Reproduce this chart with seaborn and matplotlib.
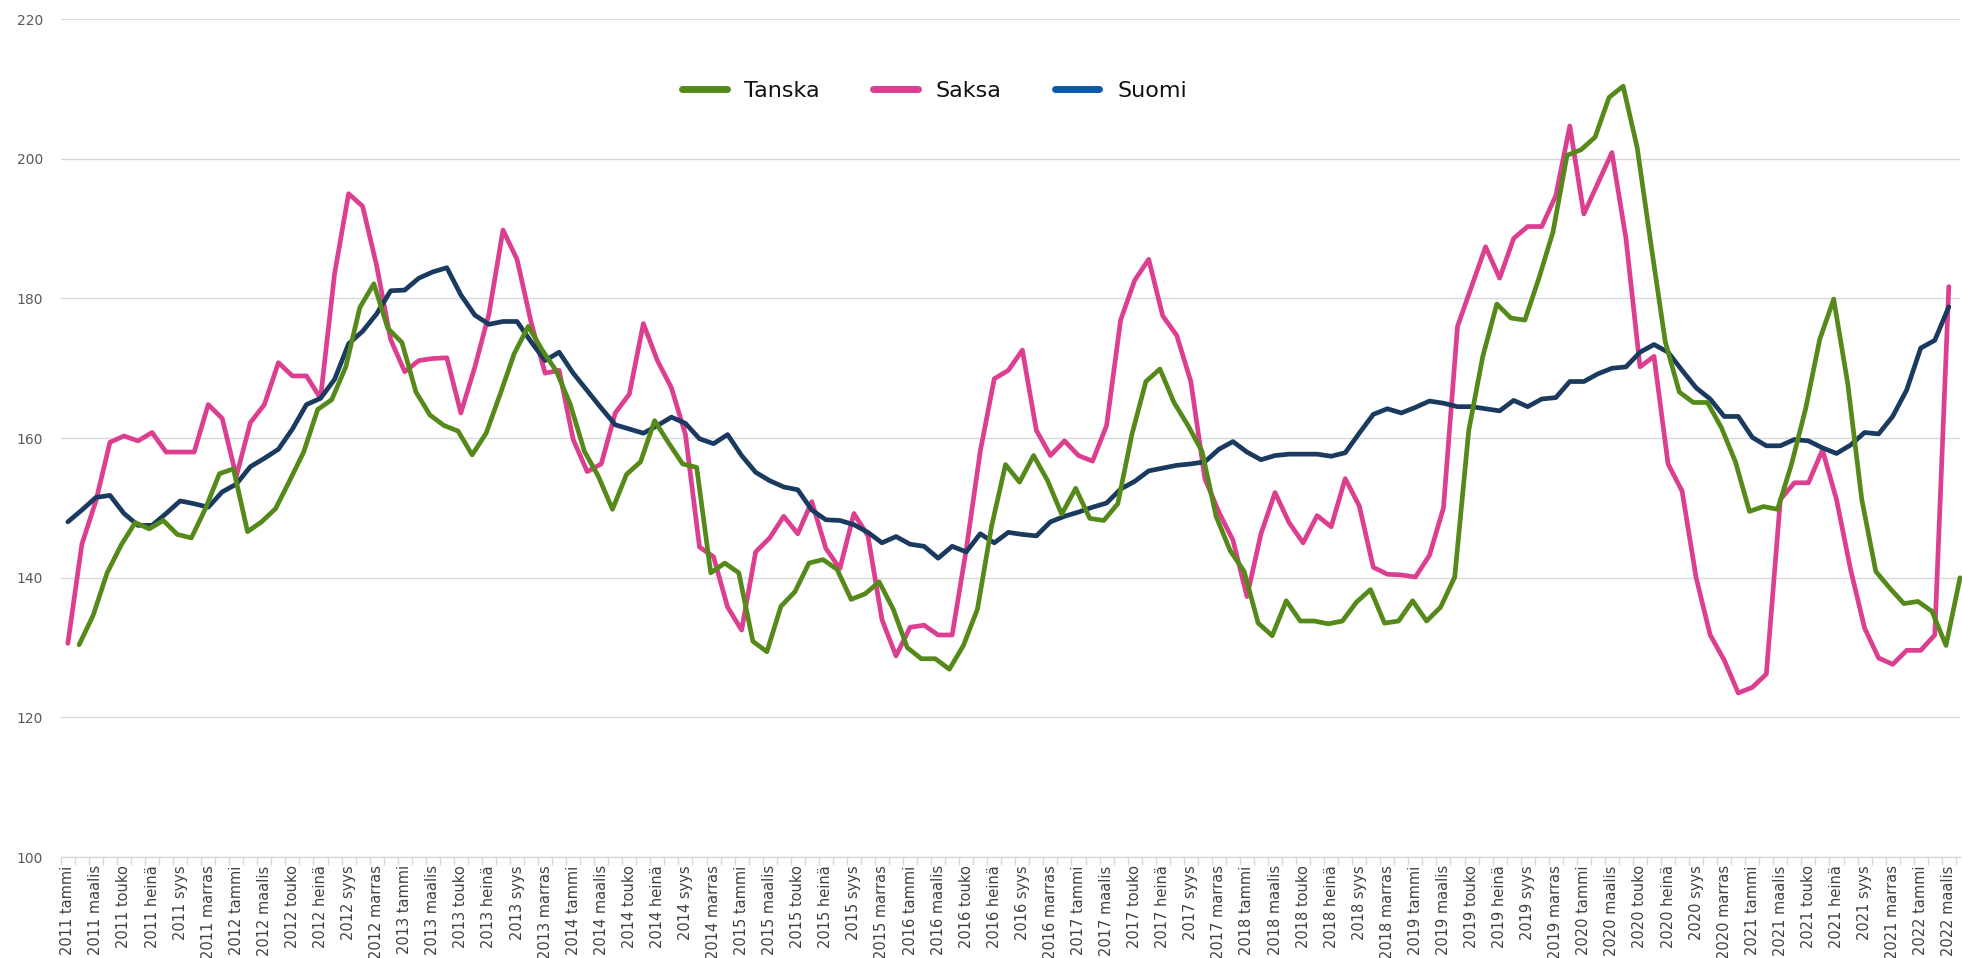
import matplotlib
matplotlib.use('agg')
import numpy as np
import pandas as pd
import seaborn as sns
import matplotlib.pyplot as plt
from matplotlib.lines import Line2D

# monthly categories 2011 tammi .. 2022 maalis
years = list(range(2011, 2023))
month_names = ['tammi', 'helmi', 'maalis', 'huhti', 'touko', 'kesä',
               'heinä', 'elo', 'syys', 'loka', 'marras', 'joulu']
n_months = 135
categories = ["%d %s" % (y, m) for y in years for m in month_names][:n_months]

tanska = [130.4, 134.6, 140.7, 144.7, 147.9, 147.0, 148.2, 146.2, 145.7, 149.9,
          154.9, 155.6, 146.6, 148.0, 149.9, 153.9, 158.0, 164.1, 165.5, 170.2,
          178.7, 182.1, 175.7, 173.7, 166.6, 163.3, 161.8, 161.0, 157.6, 160.7,
          166.3, 172.1, 176.0, 172.6, 169.6, 164.8, 158.1, 154.5, 149.8, 154.8,
          156.6, 162.5, 159.3, 156.3, 155.8, 140.7, 142.1, 140.7, 130.9, 129.4,
          135.9, 138.0, 142.1, 142.6, 141.2, 136.9, 137.7, 139.4, 135.5, 130.0,
          128.4, 128.4, 126.9, 130.3, 135.5, 147.3, 156.2, 153.7, 157.5, 153.9,
          149.1, 152.8, 148.5, 148.2, 150.6, 160.5, 168.1, 169.9, 165.1, 161.8,
          158.1, 148.8, 143.9, 140.9, 133.5, 131.7, 136.7, 133.8, 133.8, 133.4,
          133.8, 136.5, 138.3, 133.5, 133.8, 136.7, 133.8, 135.8, 140.1, 161.1,
          171.7, 179.2, 177.2, 176.9, 182.9, 189.5, 200.5, 201.3, 203.1, 208.8,
          210.4, 201.6, 187.5, 173.8, 166.6, 165.1, 165.1, 161.5, 156.6, 149.5,
          150.2, 149.8, 156.3, 164.2, 174.1, 179.9, 167.8, 151.2, 140.9, 138.5,
          136.3, 136.6, 135.2, 130.3, 140.0]

saksa = [130.6, 144.8, 151.0, 159.4, 160.3, 159.6, 160.8, 158.0, 158.0, 158.0,
         164.8, 162.8, 154.5, 162.2, 164.8, 170.8, 168.9, 168.9, 165.7, 183.5,
         195.0, 193.2, 184.7, 174.1, 169.5, 171.1, 171.4, 171.5, 163.6, 170.2,
         177.8, 189.8, 185.6, 176.6, 169.3, 169.7, 159.8, 155.2, 156.3, 163.6,
         166.3, 176.4, 171.1, 167.2, 160.5, 144.4, 143.0, 135.8, 132.5, 143.7,
         145.7, 148.8, 146.3, 150.9, 144.2, 141.3, 149.2, 146.0, 134.0, 128.8,
         132.9, 133.2, 131.8, 131.8, 144.0, 158.1, 168.5, 169.7, 172.6, 161.1,
         157.5, 159.6, 157.5, 156.7, 161.8, 176.9, 182.6, 185.6, 177.5, 174.7,
         168.1, 154.2, 149.4, 145.4, 137.3, 146.3, 152.2, 147.9, 145.0, 148.9,
         147.3, 154.2, 150.3, 141.5, 140.5, 140.4, 140.1, 143.2, 150.0, 176.0,
         181.7, 187.4, 182.9, 188.6, 190.3, 190.3, 194.7, 204.7, 192.1, 196.5,
         200.9, 188.6, 170.2, 171.7, 156.3, 152.4, 140.0, 131.8, 128.2, 123.5,
         124.3, 126.2, 151.2, 153.6, 153.6, 158.3, 151.2, 141.2, 132.8, 128.5,
         127.6, 129.6, 129.6, 131.8, 181.7]

suomi = [148.0, 149.7, 151.5, 151.8, 149.2, 147.5, 147.5, 149.2, 151.0, 150.6,
         150.1, 152.3, 153.4, 155.9, 157.1, 158.4, 161.3, 164.8, 165.7, 168.4,
         173.5, 175.3, 177.8, 181.1, 181.2, 182.9, 183.8, 184.4, 180.5, 177.6,
         176.3, 176.7, 176.7, 173.8, 171.1, 172.3, 169.3, 166.8, 164.3, 161.9,
         161.3, 160.7, 161.8, 163.0, 162.1, 159.9, 159.2, 160.5, 157.5, 155.1,
         153.9, 153.0, 152.6, 149.7, 148.3, 148.2, 147.6, 146.5, 145.0, 145.9,
         144.8, 144.5, 142.8, 144.5, 143.7, 146.3, 145.0, 146.5, 146.2, 146.0,
         148.0, 148.8, 149.4, 150.1, 150.7, 152.7, 153.8, 155.3, 155.7, 156.1,
         156.3, 156.6, 158.4, 159.5, 158.0, 156.9, 157.5, 157.7, 157.7, 157.7,
         157.4, 157.9, 160.7, 163.4, 164.2, 163.6, 164.4, 165.3, 165.0, 164.5,
         164.5, 164.2, 163.9, 165.4, 164.5, 165.6, 165.8, 168.1, 168.1, 169.2,
         170.0, 170.2, 172.3, 173.4, 172.3, 169.7, 167.2, 165.6, 163.1, 163.1,
         160.1, 158.9, 158.9, 159.8, 159.6, 158.6, 157.8, 159.0, 160.8, 160.6,
         163.1, 166.9, 172.9, 174.0, 178.8]

series_names = ['Tanska', 'Saksa', 'Suomi']
line_colors = ['#558A1B', '#DC3F90', '#1B3A60']
legend_colors = ['#558A1B', '#DC3F90', '#0B5AAA']
# in the original the Tanska line sits ~0.8 month to the right of the category centres
tanska_shift = 0.8

x = np.arange(n_months)

sns.set_theme(style='white')
plt.rcParams['font.family'] = ['DejaVu Sans']

fig = plt.figure(figsize=(19.62, 9.58), dpi=100)
ax = fig.add_axes([0.031, 0.1054, 0.968, 0.8746])

# drawing order as in the original: Saksa below, Suomi, Tanska on top
lw = 3.4
sns.lineplot(x=x, y=saksa, color=line_colors[1], linewidth=lw, ax=ax,
             solid_joinstyle='round')
sns.lineplot(x=x, y=suomi, color=line_colors[2], linewidth=lw, ax=ax,
             solid_joinstyle='round')
sns.lineplot(x=x + tanska_shift, y=tanska, color=line_colors[0], linewidth=lw, ax=ax,
             solid_joinstyle='round', clip_on=False)

ax.set_xlim(-0.5, 134.8)
ax.set_ylim(100, 220)
ax.set_yticks(np.arange(100, 221, 20))
ax.yaxis.grid(True, color='#D9D9D9', linewidth=1)
ax.set_axisbelow(True)
for s in ['top', 'right', 'left']:
    ax.spines[s].set_visible(False)
ax.spines['bottom'].set_color('#D9D9D9')
ax.spines['bottom'].set_linewidth(1)

ax.set_xticks(x[::2])
ax.set_xticklabels(categories[::2], rotation=90, fontsize=10.5, color='#404040')
ax.set_xticks(np.arange(-0.5, n_months, 1), minor=True)
ax.tick_params(axis='x', which='major', bottom=True, length=0, pad=6)
ax.tick_params(axis='x', which='minor', bottom=True, length=6, width=1, color='#D9D9D9')
ax.tick_params(axis='y', left=False, labelsize=10, labelcolor='#595959', pad=7)
ax.set_xlabel('')
ax.set_ylabel('')

handles = [Line2D([0], [0], color=c, lw=5, solid_capstyle='round') for c in legend_colors]
ax.legend(handles, series_names, loc='center', bbox_to_anchor=(0.46, 0.914), ncol=3,
          frameon=False, fontsize=16, handlelength=2.0, handletextpad=0.8,
          columnspacing=2.4, labelcolor='#111111')

plt.savefig('out.png', dpi=100)
